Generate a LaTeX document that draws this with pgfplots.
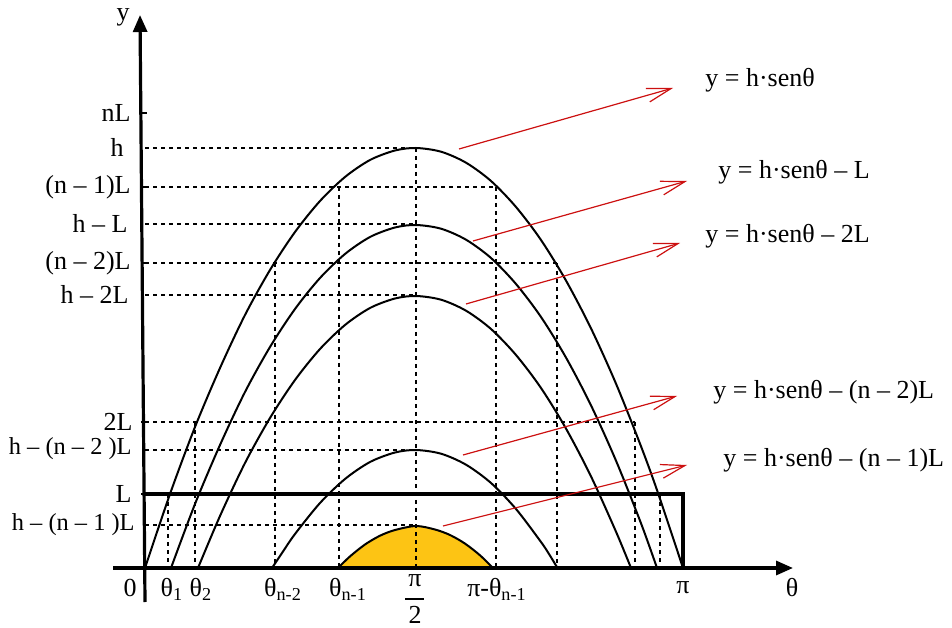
\documentclass[border=0pt]{standalone}
\usepackage{pgfplots}
\pgfplotsset{compat=1.18}
\usepackage{fontspec}
\setmainfont{Liberation Serif}
\usetikzlibrary{arrows.meta}
\definecolor{gold}{RGB}{253,196,20}
\definecolor{arrred}{RGB}{204,16,16}
\tikzset{
  dsh/.style={black, line width=0.65pt, dash pattern=on 2.2pt off 1.8pt},
  crv/.style={black, line width=1pt, smooth},
  lb/.style={inner sep=0pt, font=\fontsize{13}{15}\selectfont},
  lbs/.style={inner sep=0pt, font=\fontsize{12.2}{14}\selectfont},
  rarr/.style={arrred, line width=0.6pt, -{Straight Barb[length=12pt,width=7pt]}},
}
\begin{document}
\begin{tikzpicture}
\begin{axis}[name=ax, width=476pt, height=313.5pt, scale only axis,
  xmin=-145, xmax=807, ymin=-59, ymax=568, hide axis, clip=false]

% shaded last arc
\addplot[fill=gold, draw=black, line width=1pt, smooth] coordinates {
 (193,0)(205,11.6)(220,23.5)(235,32.3)(250,38)(271,42)(290,38.5)(305,33)(320,24.4)(335,12.7)(348,0)} \closedcycle;

% dashed guides
\addplot[dsh] coordinates {(0,420)(271,420)};
\addplot[dsh] coordinates {(0,381)(351,381)};
\addplot[dsh] coordinates {(0,344)(271,344)};
\addplot[dsh] coordinates {(0,305)(412,305)};
\addplot[dsh] coordinates {(0,273)(271,273)};
\addplot[dsh] coordinates {(0,146)(490,146)};
\addplot[dsh] coordinates {(0,118)(271,118)};
\addplot[dsh] coordinates {(0,43)(271,43)};
\addplot[dsh] coordinates {(271,420)(271,0)};
\addplot[dsh] coordinates {(194,381)(194,0)};
\addplot[dsh] coordinates {(351,381)(351,0)};
\addplot[dsh] coordinates {(130,305)(130,0)};
\addplot[dsh] coordinates {(412,305)(412,0)};
\addplot[dsh] coordinates {(50,146)(50,0)};
\addplot[dsh] coordinates {(490,146)(490,0)};
\addplot[dsh] coordinates {(23,74)(23,0)};
\addplot[dsh] coordinates {(515,74)(515,0)};

% curves
\addplot[crv] coordinates {(0,0)(25,74)(50,141)(75,200)(100,253)(125,298)(150,336)(175,367)(200,391)(225,408)(250,417.5)(271,420)(296,416.3)(321,405.3)(346,387)(371,361)(396,328)(421,287.4)(446,239.6)(471,184.3)(496,121.7)(513,75)(538,0)};
\addplot[crv] coordinates {(26,0)(50,64)(75,123)(100,176)(125,221)(150,259)(175,290)(200,314)(225,331)(250,340.5)(271,343)(296,339.3)(321,328.3)(346,310)(371,284)(396,251)(421,210.4)(446,162.6)(471,107.3)(496,44.7)(512,0)};
\addplot[crv] coordinates {(53,0)(75,52)(100,105)(125,150)(150,188)(175,219)(200,243)(225,260)(250,269.5)(271,272)(296,268.3)(321,257.3)(346,239)(371,213)(396,180)(421,139.4)(446,91.6)(471,36.3)(486,0)};
\addplot[crv] coordinates {(127,0)(137,15)(150,34)(175,65)(200,89)(225,106)(250,115.5)(271,118)(296,114.3)(321,103.3)(346,85)(371,59)(396,26)(404,14)(412.5,0)};

% L box
\addplot[black, line width=1.6pt] coordinates {(0,74)(538,74)(538,0)};

% axes
\draw[line width=1.6pt, -{Triangle[length=8.5pt,width=7pt]}] (axis cs:-32,0) -- (axis cs:648,0);
\draw[line width=1.6pt, -{Triangle[length=8.5pt,width=7pt]}] (axis cs:0,-34) -- (axis cs:-5,553);
\foreach \yy in {455,381,305,146,74}{
  \edef\tmp{\noexpand\draw[line width=1.1pt] (axis cs:-4,\yy) -- (axis cs:2,\yy);}\tmp
}

% red arrows
\draw[rarr] (axis cs:314,419) -- (axis cs:528,480);
\draw[rarr] (axis cs:328,327) -- (axis cs:542,387);
\draw[rarr] (axis cs:321,264) -- (axis cs:535,325);
\draw[rarr] (axis cs:318,113) -- (axis cs:532,172);
\draw[rarr] (axis cs:298,42) -- (axis cs:542,103);

% equation labels
\node[lb, anchor=west] at (axis cs:560,488) {y = h·senθ};
\node[lb, anchor=west] at (axis cs:573,396) {y = h·senθ – L};
\node[lb, anchor=west] at (axis cs:560,332) {y = h·senθ – 2L};
\node[lb, anchor=west] at (axis cs:568,176) {y = h·senθ – (n – 2)L};
\node[lb, anchor=west] at (axis cs:578,108) {y = h·senθ – (n – 1)L};

% y labels
\node[lb] at (axis cs:-22,551) {y};
\node[lb, anchor=east] at (axis cs:-14,455) {nL};
\node[lb] at (axis cs:-28,421) {h};
\node[lb, anchor=east] at (axis cs:-14,381) {(n – 1)L};
\node[lb, anchor=east] at (axis cs:-17,345) {h – L};
\node[lb, anchor=east] at (axis cs:-14,305) {(n – 2)L};
\node[lb, anchor=east] at (axis cs:-16,274) {h – 2L};
\node[lb, anchor=east] at (axis cs:-12,146) {2L};
\node[lbs, anchor=east] at (axis cs:-13,119) {h – (n – 2 )L};
\node[lb, anchor=east] at (axis cs:-13,74) {L};
\node[lbs, anchor=east] at (axis cs:-10,43) {h – (n – 1 )L};

% x labels
\node[lb, anchor=base] at (axis cs:-15,-28.5) {0};
\node[lb, anchor=base] at (axis cs:27,-28.5) {θ\textsubscript{1}};
\node[lb, anchor=base] at (axis cs:56,-28.5) {θ\textsubscript{2}};
\node[lb, anchor=base] at (axis cs:138,-28.5) {θ\textsubscript{n-2}};
\node[lb, anchor=base] at (axis cs:203,-28.5) {θ\textsubscript{n-1}};
\node[lb, anchor=base] at (axis cs:270,-18) {π};
\draw[line width=0.6pt] (axis cs:260,-31) -- (axis cs:279,-31);
\node[lb, anchor=base] at (axis cs:270,-55) {2};
\node[lb, anchor=base] at (axis cs:352,-28.5) {π-θ\textsubscript{n-1}};
\node[lb, anchor=base] at (axis cs:538,-25) {π};
\node[lb, anchor=base] at (axis cs:647,-28.5) {θ};
\end{axis}
\pgfresetboundingbox
\path (ax.south west) rectangle (ax.north east);
\end{tikzpicture}
\end{document}
